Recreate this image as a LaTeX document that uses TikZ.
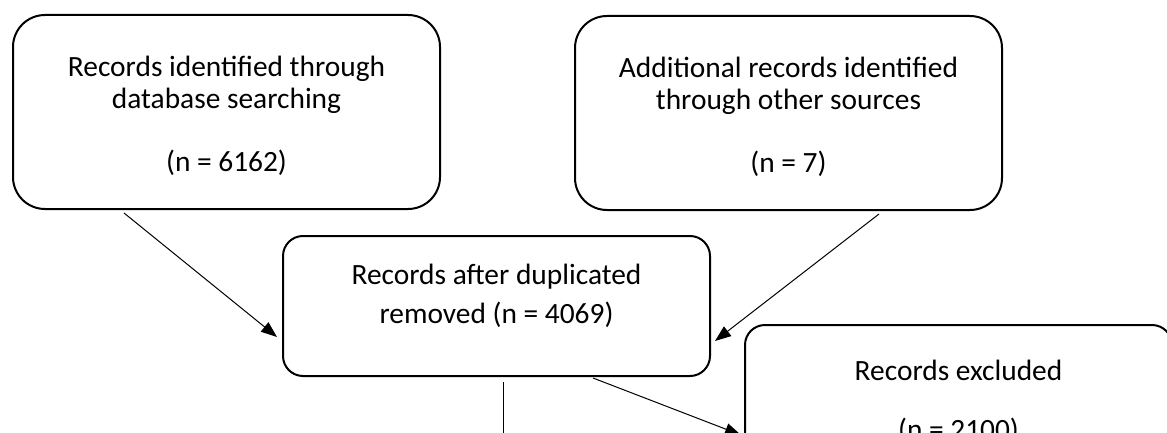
\documentclass[tikz,border=0pt]{standalone}
\usepackage{fontspec}
\setmainfont{Carlito}
\usetikzlibrary{arrows.meta,calc}
\tikzset{
  rek/.style={draw,line width=1pt,rounded corners=16pt,align=center,
    minimum width=213.5pt,inner sep=0pt},
  rekk/.style={rek,rounded corners=10pt},
  nyil/.style={-{Triangle[length=8pt,width=6pt]},line width=0.5pt},
  vonal/.style={line width=0.5pt},
}

\begin{document}
\begin{tikzpicture}[x=0.5pt,y=-0.5pt,font=\fontsize{14.7pt}{16pt}\selectfont]
  \useasboundingbox (0,0) rectangle (1167,433);
  \clip (0,0) rectangle (1167,433);
  \node[rek,minimum height=97pt] (adatb) at (226.5,112)
    {\rule{0pt}{14pt}Records identified through\\database searching\\[15.5pt](n = 6162)};
  \node[rek,minimum height=97pt] (egyeb) at (788.5,113)
    {\rule{0pt}{14pt}Additional records identified\\through other sources\\[15.5pt](n = 7)};
  \node[rekk,minimum height=70pt] (dupl) at (496.5,306)
    {Records after duplicated\\[3.5pt]removed (n = 4069)\rule[-12pt]{0pt}{12pt}};
  \node[rekk,minimum height=77.3pt] (kizart) at (958.5,402.3)
    {Records excluded\\[13.5pt](n = 2100)};
  % connectors
  \draw[nyil] ($(adatb.south west)+(112,3)$) -- ($(dupl.west)+(-5,31)$);
  \draw[nyil] ($(egyeb.south west)+(305,3)$) -- ($(dupl.east)+(4,35)$);
  \coordinate (le) at (503,440);
  \draw[vonal] ($(dupl.south)+(6.5,5)$) -- (le);
  \draw[nyil] ($(dupl.south)+(96.5,1)$) -- ($(kizart.west)+(-3,32.7)$);
\end{tikzpicture}
\end{document}
